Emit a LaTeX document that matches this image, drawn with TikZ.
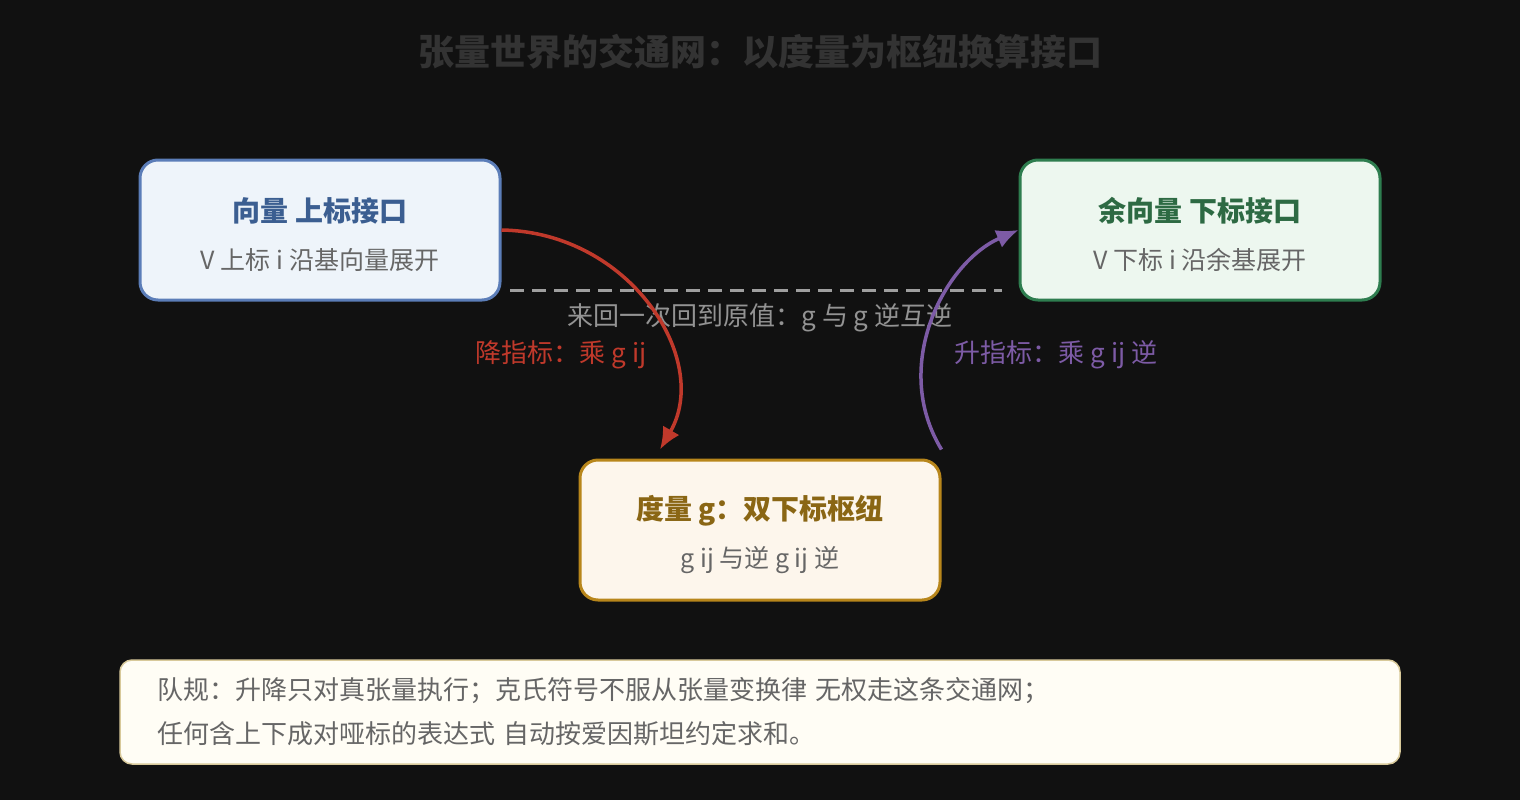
\documentclass[tikz,border=0pt]{standalone}
\usepackage{fontspec}
\setmainfont{Noto Sans CJK SC}
\usepackage{tikz}
\usetikzlibrary{shapes,arrows,arrows.meta}
\usetikzlibrary{positioning}
\definecolor{bgcol}{HTML}{111111}
\definecolor{titlegray}{HTML}{333333}
\definecolor{subgray}{HTML}{666666}
\definecolor{vecblue}{HTML}{3B5E91}
\definecolor{vecdraw}{HTML}{5B7DB8}
\definecolor{vecfill}{HTML}{EEF4FA}
\definecolor{covgreen}{HTML}{2D6A43}
\definecolor{covdraw}{HTML}{2E7D4F}
\definecolor{covfill}{HTML}{EDF7EF}
\definecolor{metgold}{HTML}{8A6614}
\definecolor{metdraw}{HTML}{B8861B}
\definecolor{metfill}{HTML}{FDF6EC}
\definecolor{notedraw}{HTML}{D8C99A}
\definecolor{notefill}{HTML}{FFFDF5}
\definecolor{lowerred}{HTML}{C0392B}
\definecolor{raisepurple}{HTML}{7D5BA6}
\tikzstyle{block} = [rectangle, draw, line width=3pt, rounded corners=18pt,
minimum width=360pt, minimum height=140pt, align=center,
font=\fontsize{25}{48}\selectfont, text=subgray]
\tikzstyle{line} = [draw, line width=3.5pt, -{Latex[length=22pt,width=19pt]}]
\tikzstyle{midlabel} = [font=\fontsize{26}{30}\selectfont]
\newcommand{\boxtitle}[2]{{\rule{0pt}{33pt}\fontsize{28}{34}\selectfont\bfseries\color{#1}#2}}

\begin{document}
\begin{tikzpicture}[x=1pt, y=-1pt,
note/.style={
	rectangle,
	draw=notedraw,
	fill=notefill,
	line width=1.5pt,
	rounded corners=12pt,
	minimum width=1280pt,
	minimum height=104pt,
	text width=1206pt,
	align=left,
	font=\fontsize{26}{44}\selectfont,
	text=subgray
}
]
\fill[bgcol] (0,0) rectangle (1520,800);
\useasboundingbox (0,0) rectangle (1520,800);
% Place nodes
\node [font=\fontsize{36}{40}\selectfont\bfseries, text=titlegray] (t0) at (760,52) {张量世界的交通网：以度量为枢纽换算接口};
\node [block, draw=vecdraw, fill=vecfill] (vec) at (320,230) {\boxtitle{vecblue}{向量 上标接口}\\V 上标 i 沿基向量展开};
\node [block, draw=covdraw, fill=covfill] (cov) at (1200,230) {\boxtitle{covgreen}{余向量 下标接口}\\V 下标 i 沿余基展开};
\node [block, draw=metdraw, fill=metfill] (met) at (760,530) {\boxtitle{metgold}{度量 g：双下标枢纽}\\g ij 与逆 g ij 逆};
\node [note] (rule) at (760,712) {队规：升降只对真张量执行；克氏符号不服从张量变换律 无权走这条交通网；\\任何含上下成对哑标的表达式 自动按爱因斯坦约定求和。};

\coordinate (d1) at (510,290);
\coordinate (d2) at (1002,290);
\node [midlabel, text=gray!85] (round) at (760,318) {来回一次回到原值：g 与 g 逆互逆};
\node [midlabel, text=lowerred] (lowlab) at (561,355) {降指标：乘 g ij};
\node [midlabel, text=raisepurple] (raiselab) at (1056,355) {升指标：乘 g ij 逆};

% Draw edges
\draw [gray!75, line width=3pt, dash pattern=on 14pt off 8pt] (d1) -- (d2);
\path [line, lowerred] (vec.east) .. controls (630,232) and (712,360) .. ([xshift=-100pt, yshift=9pt]met.north);
\path [line, raisepurple] ([yshift=9pt]met.north east) .. controls (890,365) and (945,262) .. (cov.west);
\end{tikzpicture}
\end{document}
